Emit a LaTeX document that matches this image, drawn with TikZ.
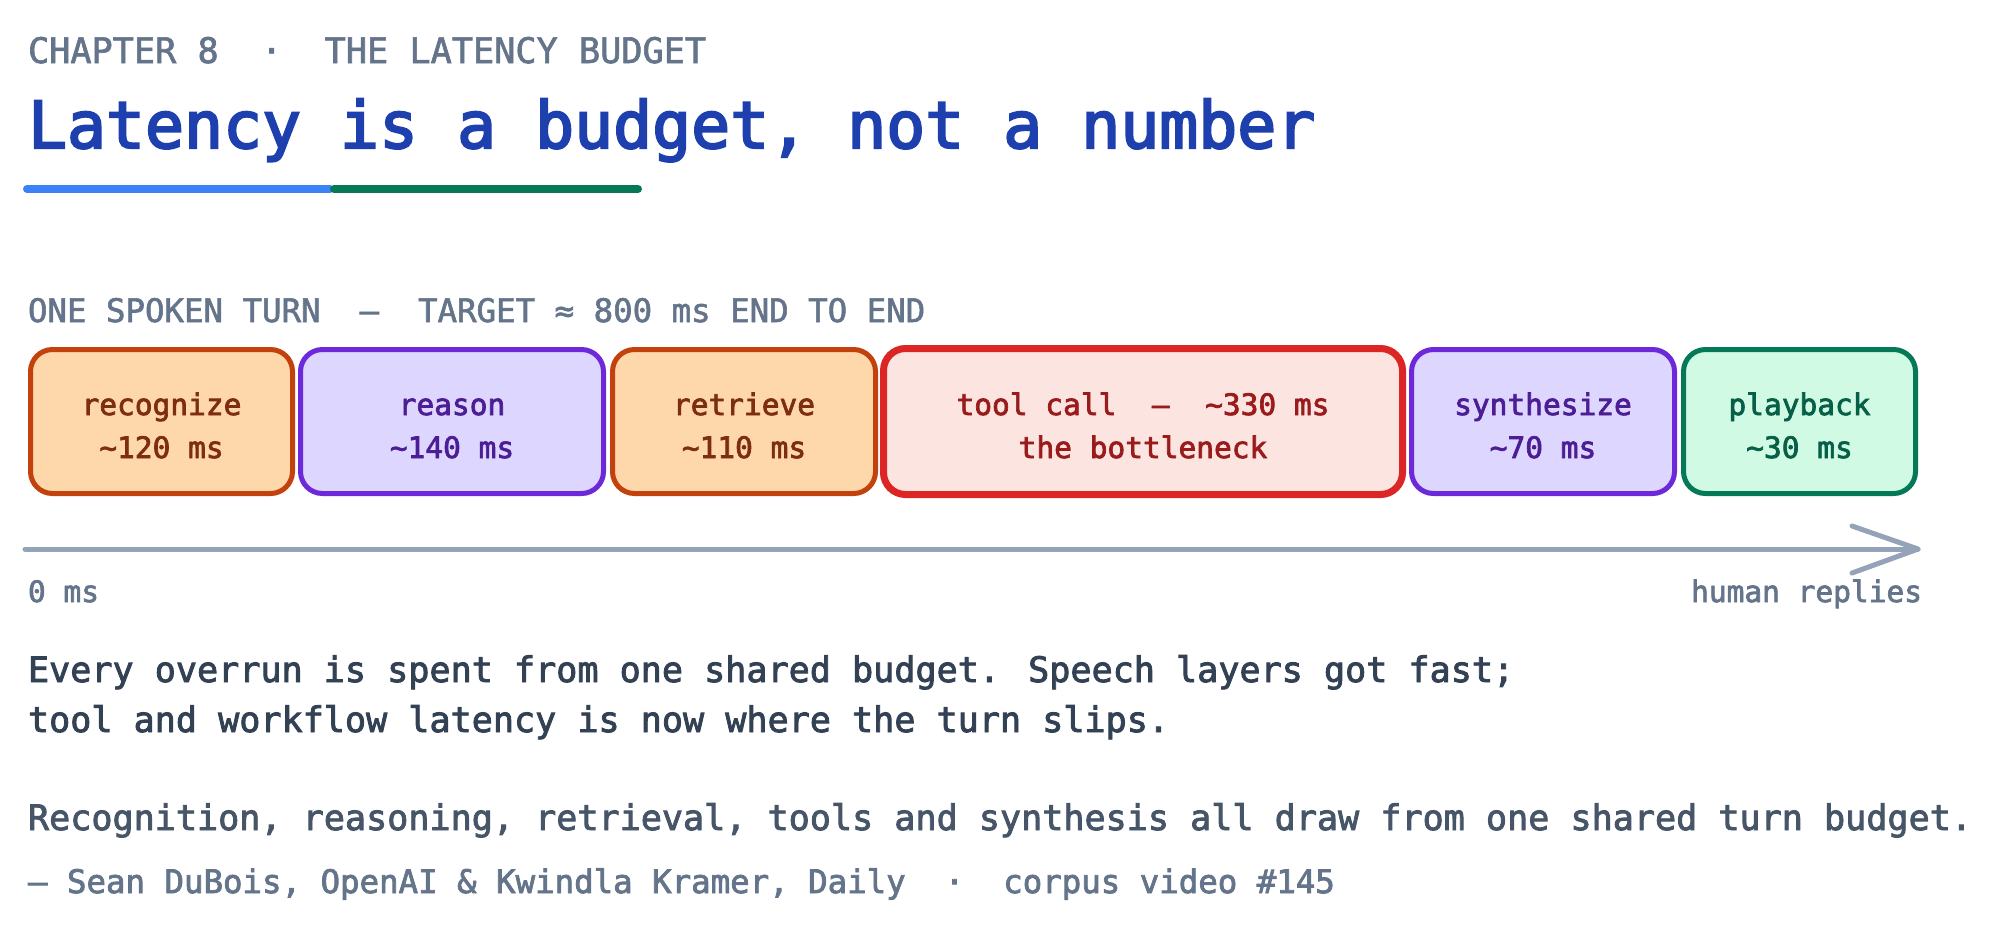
\documentclass[tikz,border=0pt]{standalone}
\usepackage{fontspec}
\newfontfamily\dmono{DejaVu Sans Mono}[FakeBold=2.4]
\newfontfamily\dmonol{DejaVu Sans Mono}[FakeBold=1.8]
\newfontfamily\dmonot{DejaVu Sans Mono}[FakeBold=3.2]
\definecolor{slateA}{HTML}{64748B}
\definecolor{slateB}{HTML}{94A3B8}
\definecolor{slateC}{HTML}{475569}
\definecolor{slateD}{HTML}{334155}
\definecolor{titleblue}{HTML}{1E40AF}
\definecolor{ublue}{HTML}{3B82F6}
\definecolor{ugreen}{HTML}{047857}
\definecolor{orF}{HTML}{FED7AA}
\definecolor{orS}{HTML}{C2410C}
\definecolor{orT}{HTML}{7C2D12}
\definecolor{viF}{HTML}{DDD6FE}
\definecolor{viS}{HTML}{6D28D9}
\definecolor{viT}{HTML}{4C1D95}
\definecolor{reF}{HTML}{FCE5E1}
\definecolor{reS}{HTML}{DC2626}
\definecolor{reT}{HTML}{991B1B}
\definecolor{grF}{HTML}{D1FAE5}
\definecolor{grS}{HTML}{047857}
\definecolor{grT}{HTML}{065F46}
\tikzset{
  txt/.style={inner sep=0pt, outer sep=0pt, anchor=base west},
  hdr/.style={txt, text=slateA, font=\dmonol\fontsize{17.6}{21}\selectfont},
  ttl/.style={txt, text=titleblue, font=\dmonot\fontsize{32.4}{38}\selectfont},
  sub/.style={txt, text=slateA, font=\dmonol\fontsize{16.2}{20}\selectfont},
  body/.style={txt, text=slateD, font=\dmono\fontsize{17.55}{21}\selectfont},
  attr/.style={txt, text=slateA, font=\dmono\fontsize{16.2}{20}\selectfont},
  axlbl/.style={inner sep=0pt, outer sep=0pt, text=slateA, font=\dmono\fontsize{14.75}{18}\selectfont},
  stage/.style={rounded corners=11pt, line width=2.5pt, minimum height=72pt, inner sep=0pt},
  orbox/.style={stage, draw=orS, fill=orF},
  vibox/.style={stage, draw=viS, fill=viF},
  grbox/.style={stage, draw=grS, fill=grF},
  rebox/.style={stage, draw=reS, fill=reF, line width=3.5pt, minimum height=73pt},
  stagetxt/.style={inner sep=0pt, outer sep=0pt, anchor=base, font=\dmono\fontsize{14.75}{18}\selectfont},
  axisline/.style={draw=slateB, line width=2.5pt, line cap=round, line join=round},
  uline/.style={line width=4pt, line cap=round}
}
\begin{document}
\begin{tikzpicture}[x=0.5pt,y=-0.5pt]
\fill[white] (0,0) rectangle (2000,933);
\useasboundingbox (0,0) rectangle (2000,933);

% header
\node[hdr] (chap) at (28,63) {CHAPTER 8~~·~~THE LATENCY BUDGET};
\node[ttl] (title) at (28,148) {Latency is a budget, not a number};
\coordinate (u0) at (27,189);
\coordinate (u1) at (330,189);
\coordinate (u2) at (334,189);
\coordinate (u3) at (638,189);
\draw[uline, ublue] (u0) -- (u1);
\draw[uline, ugreen] (u2) -- (u3);

\node[sub] (turn) at (28,322) {ONE SPOKEN TURN~~—~~TARGET ≈ 800 ms END TO END};

% stages
\node[orbox, minimum width=131pt] (rec) at (161.5,421.5) {};
\node[vibox, minimum width=151.5pt] (rea) at (452,421.5) {};
\node[orbox, minimum width=131.5pt] (ret) at (744,421.5) {};
\node[rebox, minimum width=259.5pt] (tool) at (1143,421.5) {};
\node[vibox, minimum width=131.5pt] (syn) at (1543,421.5) {};
\node[grbox, minimum width=116pt] (play) at (1799.5,421.5) {};

\node[stagetxt, text=orT] (recA) at (161.5,415) {recognize};
\node[stagetxt, text=orT] (recB) at (161.5,458) {\textasciitilde120 ms};
\node[stagetxt, text=viT] (reaA) at (452,415) {reason};
\node[stagetxt, text=viT] (reaB) at (452,458) {\textasciitilde140 ms};
\node[stagetxt, text=orT] (retA) at (744,415) {retrieve};
\node[stagetxt, text=orT] (retB) at (744,458) {\textasciitilde110 ms};
\node[stagetxt, text=reT] (toolA) at (1143,415) {tool call~~—~~\textasciitilde330 ms};
\node[stagetxt, text=reT] (toolB) at (1143,458) {the bottleneck};
\node[stagetxt, text=viT] (synA) at (1543,415) {synthesize};
\node[stagetxt, text=viT] (synB) at (1543,458) {\textasciitilde70 ms};
\node[stagetxt, text=grT] (playA) at (1799.5,415) {playback};
\node[stagetxt, text=grT] (playB) at (1799.5,458) {\textasciitilde30 ms};

% time axis
\coordinate (t0) at (25,549);
\coordinate (t1) at (1918,549);
\coordinate (chevA) at (1852,526);
\coordinate (chevB) at (1852,573);
\draw[axisline] (t0) -- (t1);
\draw[axisline] (chevA) -- (t1) -- (chevB);
\node[axlbl, anchor=base west] (zero) at (28,602) {0 ms};
\node[axlbl, anchor=base east] (human) at (1922,602) {human replies};

% body
\node[body] (b1) at (28,682) {Every overrun is spent from one shared budget. Speech layers got fast;};
\node[body] (b2) at (28,732) {tool and workflow latency is now where the turn slips.};
\node[body, text=slateC] (b3) at (28,830) {Recognition, reasoning, retrieval, tools and synthesis all draw from one shared turn budget.};
\node[attr] (att) at (28,893) {— Sean DuBois, OpenAI \& Kwindla Kramer, Daily~~·~~corpus video \#145};
\end{tikzpicture}
\end{document}
